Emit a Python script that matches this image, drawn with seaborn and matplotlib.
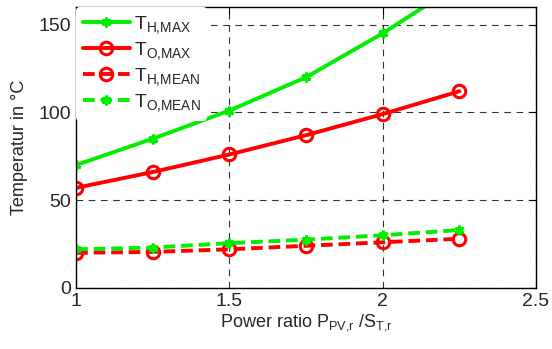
import matplotlib
matplotlib.use("Agg")
import matplotlib.pyplot as plt
import seaborn as sns
import pandas as pd

# power ratio values
ratio = [1.0, 1.25, 1.5, 1.75, 2.0, 2.25]
t_h_max = [70, 85, 101, 120, 145, 173]
t_o_max = [57, 66, 76, 87, 99, 112]
t_h_mean = [20, 20.5, 22, 24, 26, 28]
t_o_mean = [22, 23, 25.5, 27.5, 30, 33]

sns.set_style("white")
plt.rcParams['font.family'] = ['Liberation Sans', 'DejaVu Sans']
plt.rcParams['mathtext.fontset'] = 'custom'
plt.rcParams['mathtext.rm'] = 'Liberation Sans'
plt.rcParams['mathtext.it'] = 'Liberation Sans'

fig = plt.figure(figsize=(5.52, 3.49), dpi=100)
ax = fig.add_axes([0.138, 0.175, 0.833, 0.805])

series = [
    (t_h_max, r'$\mathrm{T}_{\mathrm{H{,}MAX}}$', '#00ee00', '-', (6, 2, 0)),
    (t_o_max, r'$\mathrm{T}_{\mathrm{O{,}MAX}}$', '#ff0000', '-', 'o'),
    (t_h_mean, r'$\mathrm{T}_{\mathrm{H{,}MEAN}}$', '#ff0000', '--', 'o'),
    (t_o_mean, r'$\mathrm{T}_{\mathrm{O{,}MEAN}}$', '#00ee00', '--', (6, 2, 0)),
]
for vals, lab, col, ls, mk in series:
    df = pd.DataFrame({'ratio': ratio, 'temp': vals})
    sns.lineplot(data=df, x='ratio', y='temp', ax=ax, color=col,
                 linestyle=(0, (3, 1.5)) if ls == '--' else '-',
                 marker=mk, markersize=9 if mk == 'o' else 7,
                 markerfacecolor='none' if mk == 'o' else col,
                 markeredgecolor=col, markeredgewidth=2.2, linewidth=2.8,
                 label=lab)

ax.set_xlim(1, 2.5)
ax.set_ylim(0, 160)
ax.set_xticks([1, 1.5, 2, 2.5])
ax.set_xticklabels(['1', '1.5', '2', '2.5'])
ax.set_yticks([0, 50, 100, 150])
ax.grid(True, color='black', linestyle=(0, (6, 5)), linewidth=0.8, alpha=0.8)
ax.tick_params(direction='in', top=True, right=True, length=5, labelsize=14,
               color='black')
for s in ax.spines.values():
    s.set_color('black')
    s.set_linewidth(1.0)

ax.set_xlabel(r'Power ratio P$_{\mathrm{PV{,}r}}$ /S$_{\mathrm{T{,}r}}$', fontsize=13, labelpad=2)
ax.set_ylabel('Temperatur in °C', fontsize=13, labelpad=8)

leg = ax.legend(loc='upper left', frameon=True, fontsize=14, handlelength=2.4,
                borderpad=0.35, labelspacing=0.22, handletextpad=0.2,
                borderaxespad=0.0, bbox_to_anchor=(0.0, 1.0))
leg.get_frame().set_edgecolor('white')
leg.get_frame().set_alpha(1)
leg.get_frame().set_linewidth(0)

fig.savefig('out.png', dpi=100)
